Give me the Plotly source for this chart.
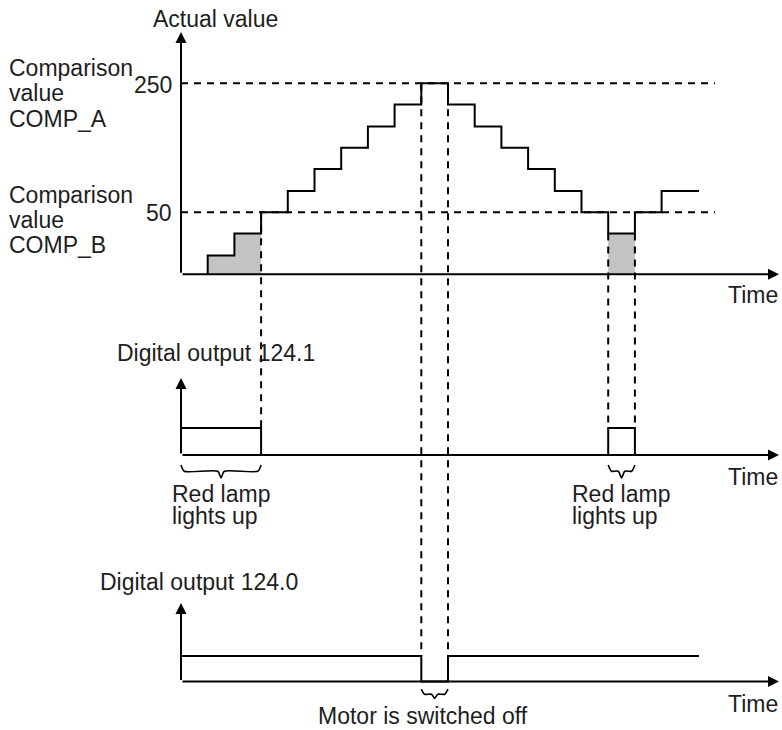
import plotly.graph_objects as go

W, H = 782, 730

# Actual value staircase (time in steps, value in counts)
ACTUAL_T = [1, 2, 3, 4, 5, 6, 7, 8, 9, 10, 11, 12, 13, 14, 15, 16, 17, 18, 19.4]
ACTUAL_V = [-17, 17, 50, 83, 117, 150, 183, 217, 250, 217, 183, 150, 117, 83, 50, 17, 50, 83, 83]
BASE_V = -46          # where the time axis sits on the value scale
COMP_A = 250
COMP_B = 50

# Digital outputs
DQ1_T = [0, 3, 16, 17]
DQ1_V = [1, 0, 1, 0]
DQ0_T = [0, 9, 10, 19.4]
DQ0_V = [1, 0, 1, 1]

# Switching instants: (time, value where the dashed guide starts)
SW_B = [(3, 50), (16, 17), (17, 17)]   # -> output 124.1
SW_A = [(9, 250), (10, 250)]           # -> output 124.0

FONT = dict(family="Liberation Sans, Arial, sans-serif", size=23, color="#1e1e1e")

# pixel mapping used to build the three stacked scales
X0, DX = 181.0, 26.7
def top_py(v): return 212.3 - (v - 50) * 0.645
def top_v(py): return 50 - (py - 212.3) / 0.645
def mid_py(d): return 455 - 27 * d
def mid_d(py): return (455 - py) / 27
def bot_py(d): return 681.5 - 25.5 * d
def bot_d(py): return (681.5 - py) / 25.5


def px_x(px): return px / W
def px_y(py): return 1 - py / H


fig = go.Figure()
dash = dict(color="black", width=2, dash="7px,6px")

# gray area where actual value < COMP_B
groups = []
for i in range(len(ACTUAL_T) - 1):
    if ACTUAL_V[i] < COMP_B:
        seg = (ACTUAL_T[i], ACTUAL_T[i + 1], ACTUAL_V[i])
        if groups and abs(groups[-1][-1][1] - seg[0]) < 1e-9:
            groups[-1].append(seg)
        else:
            groups.append([seg])
for g in groups:
    gx = [g[0][0]]
    gy = [BASE_V]
    for a, b, v in g:
        gx += [a, b]
        gy += [v, v]
    gx.append(g[-1][1])
    gy.append(BASE_V)
    fig.add_trace(go.Scatter(x=gx, y=gy, fill="toself", fillcolor="#c3c3c3",
                             line=dict(width=0), mode="lines", hoverinfo="skip"))

# dashed comparison levels
for lvl in (COMP_A, COMP_B):
    fig.add_trace(go.Scatter(x=[0, 20], y=[lvl, lvl], mode="lines", line=dash))

# dashed guides down to the outputs
for t, v0 in SW_B:
    fig.add_trace(go.Scatter(x=[t, t], y=[v0, top_v(mid_py(1))], mode="lines", line=dash))
for t, v0 in SW_A:
    fig.add_trace(go.Scatter(x=[t, t], y=[v0, top_v(bot_py(1))], mode="lines", line=dash))

# staircase
fig.add_trace(go.Scatter(x=[ACTUAL_T[0]] + ACTUAL_T, y=[BASE_V] + ACTUAL_V,
                         mode="lines", line=dict(color="black", width=2, shape="hv")))

# digital outputs
fig.add_trace(go.Scatter(x=DQ1_T, y=DQ1_V, yaxis="y2", mode="lines",
                         line=dict(color="black", width=2, shape="hv")))
fig.add_trace(go.Scatter(x=DQ0_T, y=DQ0_V, yaxis="y3", mode="lines",
                         line=dict(color="black", width=2, shape="hv")))

# braces
def brace(t0, t1, ya, yb, yc, axis):
    m = (t0 + t1) / 2
    e = min(0.12, (t1 - t0) / 8)
    fig.add_trace(go.Scatter(
        x=[t0, t0 + e, m - e, m, m + e, t1 - e, t1],
        y=[ya, yb, yb, yc, yb, yb, ya], yaxis=axis, mode="lines",
        line=dict(color="black", width=1.6, shape="spline", smoothing=0.6)))

brace(0, 3, -0.37, -0.6, -0.85, "y2")
brace(16, 17, -0.37, -0.6, -0.85, "y2")
brace(9, 10, -0.3, -0.5, -0.66, "y3")

# axes drawn as arrows
ann = []
def arrow(x_tip, y_tip, ax, ay):
    ann.append(dict(x=px_x(x_tip), y=px_y(y_tip), xref="paper", yref="paper",
                    ax=ax, ay=ay, text="", showarrow=True, arrowhead=2,
                    arrowsize=1.1, arrowwidth=2, arrowcolor="black", standoff=0))

for base_py, tip_py in ((top_py(BASE_V), 32), (mid_py(0), 378), (bot_py(0), 603)):
    arrow(X0, tip_py, 0, base_py - tip_py)
    arrow(779, base_py, -(779 - X0), 0)

def label(text, x, y, xanchor="left"):
    ann.append(dict(x=px_x(x), y=px_y(y), xref="paper", yref="paper", text=text,
                    showarrow=False, xanchor=xanchor, yanchor="middle", font=FONT,
                    borderpad=0))

label("Actual value", 152, 19)
label("Comparison", 8, 68)
label("value", 8, 93)
label("COMP_A", 8, 119)
label("Comparison", 8, 195)
label("value", 8, 220)
label("COMP_B", 8, 245)
label("250", 173, top_py(COMP_A) + 2, xanchor="right")
label("50", 173, top_py(COMP_B) + 1, xanchor="right")
label("Time", 727, 295)
label("Digital output 124.1", 116, 353)
label("Time", 727, 477)
label("Red lamp", 171, 494)
label("lights up", 171, 516)
label("Red lamp", 571, 494)
label("lights up", 571, 516)
label("Digital output 124.0", 99, 582)
label("Time", 727, 704)
label("Motor is switched off", 317, 716)

# axis ranges so the three scales line up with the diagram rows
fig.update_layout(
    width=W, height=H, margin=dict(l=0, r=0, t=0, b=0),
    paper_bgcolor="white", plot_bgcolor="white", showlegend=False,
    xaxis=dict(range=[-X0 / DX, (W - X0) / DX], domain=[0, 1], visible=False),
    yaxis=dict(range=[top_v(H), top_v(0)], domain=[0, 1], visible=False),
    yaxis2=dict(range=[mid_d(H), mid_d(0)], overlaying="y", visible=False),
    yaxis3=dict(range=[bot_d(H), bot_d(0)], overlaying="y", visible=False),
    annotations=ann,
)

# drop the browser's default body margin so the figure fills the window
fig.write_html("out.html", config={"displayModeBar": False},
               post_script="document.body.style.margin='0';document.body.style.overflow='hidden';")
